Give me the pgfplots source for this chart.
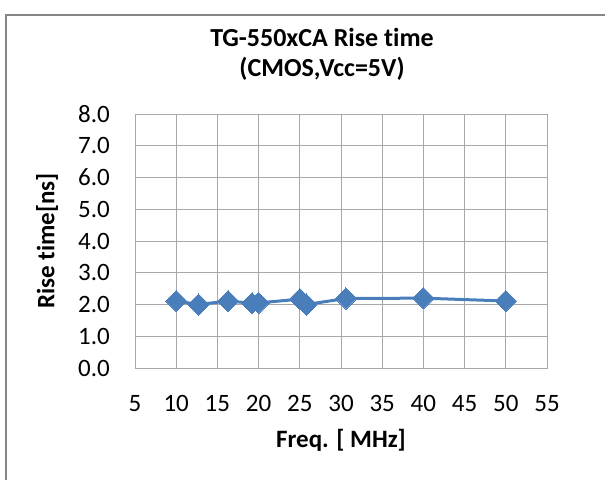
\documentclass[border=0pt]{standalone}
\usepackage{fontspec}
\setmainfont[Ligatures=NoCommon]{Carlito}
\usepackage{pgfplots}
\pgfplotsset{compat=1.18}
\definecolor{serblue}{HTML}{4A7EBB}
\definecolor{gridgray}{HTML}{A8A8A8}
\definecolor{framegray}{HTML}{868686}

\begin{document}
\begin{tikzpicture}[x=1pt,y=1pt]
  \useasboundingbox (0,0) rectangle (605,480);
  % chart area frame (only top and left visible)
  \draw[framegray, line width=1.5pt] (6,0) -- (6,465) -- (606,465);

  \begin{axis}[
    at={(135pt,112pt)}, anchor=south west,
    scale only axis, width=412pt, height=254pt,
    xmin=5, xmax=55, ymin=0, ymax=8,
    xtick={5,10,...,55}, ytick={0,1,...,8},
    grid=major,
    major grid style={gridgray, line width=1pt},
    axis line style={gridgray, line width=1pt},
    major tick length=0pt,
    /pgf/number format/assume math mode=true,
    yticklabel={\pgfmathprintnumber[fixed,fixed zerofill,precision=1]{\tick}},
    ticklabel style={font=\fontsize{25}{30}\selectfont, inner sep=0pt},
    xticklabel style={anchor=north, yshift=-27pt},
    yticklabel style={anchor=east, xshift=-25pt},
    title={TG-550xCA Rise time\\(CMOS,Vcc=5V)},
    title style={at={(axis description cs:0.454,1.2126)}, anchor=center,
      align=center, font=\fontsize{26}{30}\bfseries\selectfont},
    xlabel={Freq. [ MHz]},
    xlabel style={at={(axis description cs:0.5,-0.2835)}, anchor=center,
      font=\fontsize{25}{30}\bfseries\selectfont},
    ylabel={Rise time[ns]},
    ylabel style={at={(axis description cs:-0.2136,0.5)}, anchor=center,
      font=\fontsize{25}{30}\bfseries\selectfont},
  ]
    \addplot[serblue, line width=3pt, mark=square*, mark size=7.5pt,
      mark options={rotate=45, fill=serblue, draw=serblue, line width=0pt}]
      coordinates {
      (10.0, 2.11)
      (12.7, 2.00)
      (16.3, 2.11)
      (19.2, 2.04)
      (20.0, 2.05)
      (25.0, 2.17)
      (25.8, 2.00)
      (30.6, 2.19)
      (40.0, 2.20)
      (50.0, 2.11)
    };
  \end{axis}
\end{tikzpicture}
\end{document}
